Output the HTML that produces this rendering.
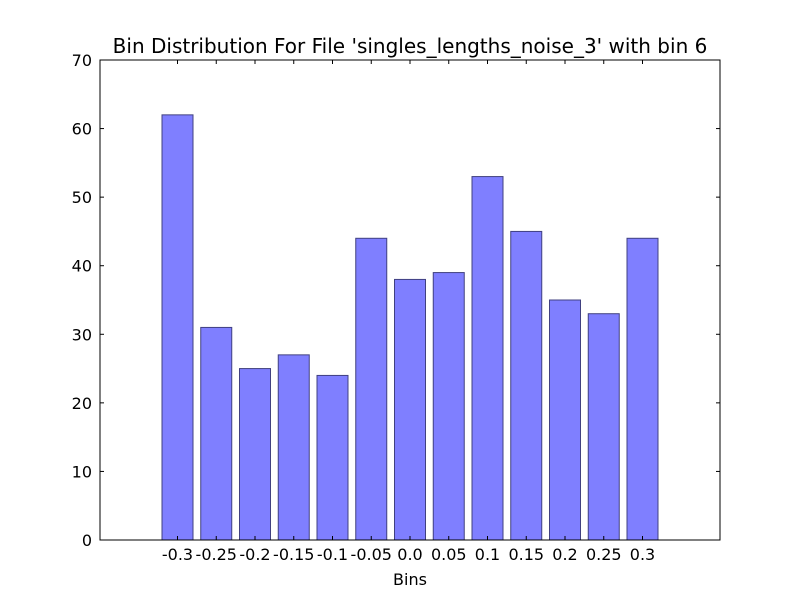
<!DOCTYPE html>
<html><head><meta charset="utf-8"><style>
body{margin:0;background:#fff;}
text{font-family:"DejaVu Sans","Liberation Sans",sans-serif;}
</style></head><body>
<svg id="chart" width="800" height="600" xmlns="http://www.w3.org/2000/svg">
<rect width="800" height="600" fill="#fff"/>
<text x="410" y="53" text-anchor="middle" font-size="20">Bin Distribution For File 'singles_lengths_noise_3' with bin 6</text>
<text x="410" y="585" text-anchor="middle" font-size="16">Bins</text>
<g id="marks"></g>
<rect x="100" y="60" width="620" height="480" fill="none" stroke="#000" stroke-width="1"/>
</svg>
<script>
const categories = ["-0.3","-0.25","-0.2","-0.15","-0.1","-0.05","0.0","0.05","0.1","0.15","0.2","0.25","0.3"];
const values = [62,31,25,27,24,44,38,39,53,45,35,33,44];
const yTicks = [0,10,20,30,40,50,60,70];

const L=100,R=720,T=60,B=540;
const xMin=-2,xMax=14,yMin=0,yMax=70;
const xs=v=>L+(v-xMin)/(xMax-xMin)*(R-L);
const ys=v=>B-(v-yMin)/(yMax-yMin)*(B-T);
const NS="http://www.w3.org/2000/svg";
const g=document.getElementById('marks');
function mk(tag,attrs){const e=document.createElementNS(NS,tag);for(const k in attrs)e.setAttribute(k,attrs[k]);g.appendChild(e);return e;}

values.forEach((v,i)=>{
  const x0=xs(i-0.4),x1=xs(i+0.4);
  const r=mk('rect',{x:x0,y:ys(v),width:x1-x0,height:ys(0)-ys(v),fill:'#7f7fff',stroke:'#404080','stroke-width':1});
  
  
  const t=mk('text',{x:xs(i),y:B+20,'text-anchor':'middle','font-size':16});
  t.textContent=categories[i];
  
  
  const tk=mk('line',{x1:xs(i),x2:xs(i),y1:B,y2:B-4,stroke:'#000'});
  
  
  const tk2=mk('line',{x1:xs(i),x2:xs(i),y1:T,y2:T+4,stroke:'#000'});
  
  
});
yTicks.forEach(v=>{
  const y=ys(v);
  const t=mk('text',{x:L-8,y:y+6,'text-anchor':'end','font-size':16});
  t.textContent=v;
  
  
  const a=mk('line',{x1:L,x2:L+4,y1:y,y2:y,stroke:'#000'});
  
  
  const b=mk('line',{x1:R-4,x2:R,y1:y,y2:y,stroke:'#000'});
  
  
});
</script>
</body></html>
